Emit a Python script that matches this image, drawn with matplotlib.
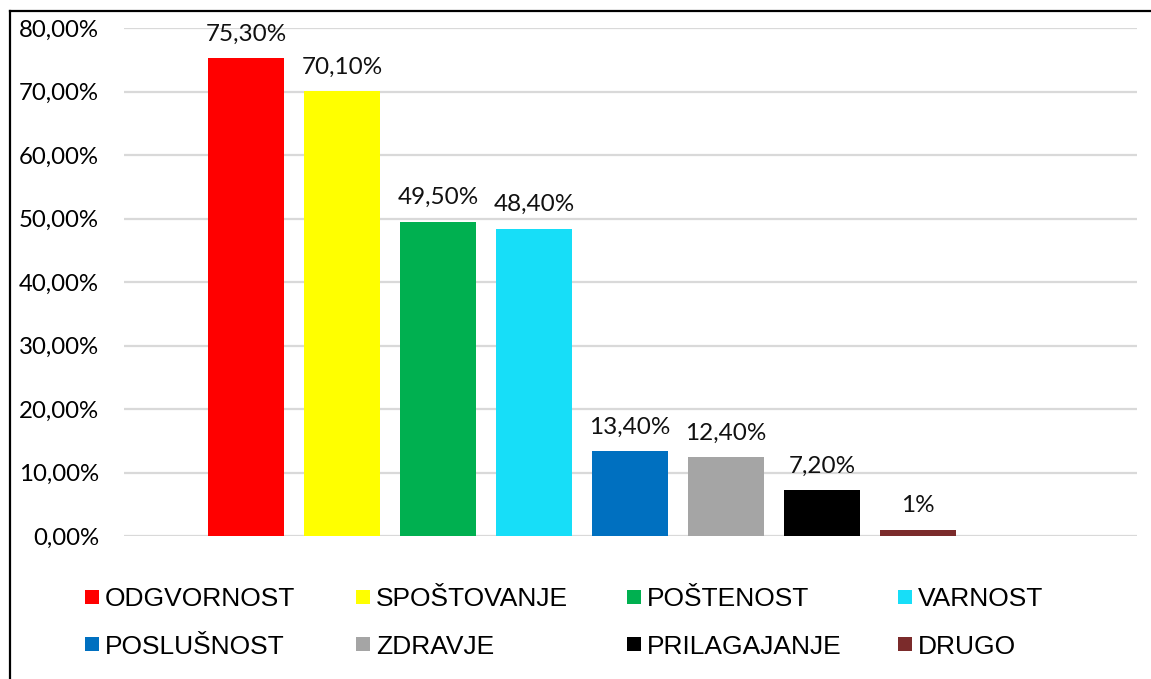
import matplotlib
matplotlib.use("Agg")
import matplotlib.pyplot as plt
from matplotlib.patches import Rectangle
from matplotlib.lines import Line2D
from matplotlib.ticker import FuncFormatter

categories = ["ODGVORNOST", "SPOŠTOVANJE", "POŠTENOST", "VARNOST",
              "POSLUŠNOST", "ZDRAVJE", "PRILAGAJANJE", "DRUGO"]
values = [0.753, 0.701, 0.495, 0.484, 0.134, 0.124, 0.072, 0.01]
labels = ["75,30%", "70,10%", "49,50%", "48,40%", "13,40%", "12,40%", "7,20%", "1%"]
colors = ["#FF0000", "#FFFF00", "#00B050", "#17DEF8",
          "#0070C0", "#A5A5A5", "#000000", "#7B2B2B"]
yticks = [0, 0.1, 0.2, 0.3, 0.4, 0.5, 0.6, 0.7, 0.8]

W, H = 1151, 679
fig = plt.figure(figsize=(W / 100, H / 100), dpi=100)
ax = fig.add_axes([124 / W, (H - 536) / H, (1137 - 124) / W, 508 / H])

x = list(range(len(values)))
ax.bar(x, values, width=0.79, color=colors, zorder=3)
for xi, v, lab in zip(x, values, labels):
    ax.annotate(lab, (xi, v), xytext=(0, 12.5), textcoords="offset points",
                ha="center", va="baseline", fontsize=17.5, family="Lato", color="#111111")

ax.set_xlim(-1.27, 9.28)
ax.set_ylim(0, 0.8)
ax.set_yticks(yticks)
ax.yaxis.set_major_formatter(FuncFormatter(lambda v, p: f"{v*100:.2f}%".replace(".", ",")))
ax.set_xticks([])
for lbl in ax.get_yticklabels():
    lbl.set_fontsize(17.3)
    lbl.set_family("Lato")
ax.tick_params(axis="y", length=0, pad=18)
ax.grid(axis="y", color="#D9D9D9", linewidth=1.6, zorder=0)
for s in ax.spines.values():
    s.set_visible(False)
ax.set_clip_on(False)

# legend (manual, Excel-style equal columns)
sq = 14
x0, dx = 85, 271
rows_y = [597, 644]
for i, (cat, col) in enumerate(zip(categories, colors)):
    r, c = divmod(i, 4)
    xl = x0 + c * dx
    yc = rows_y[r]
    fig.add_artist(Rectangle((xl / W, (H - yc - sq / 2) / H), sq / W, sq / H,
                             transform=fig.transFigure, facecolor=col, edgecolor="none"))
    fig.text((xl + 20) / W, (H - yc) / H, cat, ha="left", va="center_baseline",
             fontsize=19, family="Liberation Sans", color="#000000")

# outer frame (left and top)
fig.add_artist(Line2D([10 / W, 10 / W], [0, (H - 11) / H], transform=fig.transFigure,
                      color="black", linewidth=1.6))
fig.add_artist(Line2D([10 / W, 1], [(H - 11) / H, (H - 11) / H], transform=fig.transFigure,
                      color="black", linewidth=1.6))

fig.savefig("out.png", dpi=100, facecolor="white")
